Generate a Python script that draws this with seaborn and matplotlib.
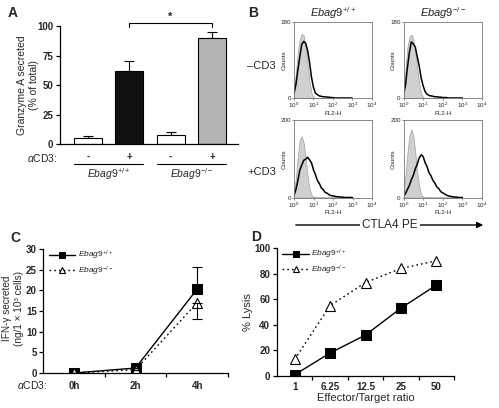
import numpy as np
import pandas as pd
import matplotlib
matplotlib.use("Agg")
import matplotlib.pyplot as plt
import seaborn as sns
from matplotlib.patches import FancyArrowPatch
from matplotlib.lines import Line2D

sns.set_theme(style="ticks")
plt.rcParams['font.family'] = ['Liberation Sans', 'DejaVu Sans']
plt.rcParams['mathtext.fontset'] = 'custom'
plt.rcParams['mathtext.rm'] = 'Liberation Sans'
plt.rcParams['mathtext.it'] = 'Liberation Sans:italic'
plt.rcParams['mathtext.bf'] = 'Liberation Sans:bold'

# ---------------- data ----------------
WT_LABEL = r"$\mathit{Ebag9}^{+/+}$"
KO_LABEL = r"$\mathit{Ebag9}^{-/-}$"

# Panel A
a_groups = ["WT-", "WT+", "KO-", "KO+"]
a_signs = ["-", "+", "-", "+"]
a_values = [5.5, 62, 7.5, 89.5]
a_err = [1.5, 8.5, 2.5, 5.5]
a_colors = ["#ffffff", "#111111", "#ffffff", "#b3b3b3"]

# Panel B (x in decades of FL2-H)
b_log = [0.0, 0.1, 0.2, 0.3, 0.4, 0.5, 0.6, 0.7, 0.8, 0.9, 1.0,
         1.1, 1.2, 1.3, 1.4, 1.5, 1.6, 1.7, 1.8, 1.9, 2.0,
         2.1, 2.2, 2.3, 2.4, 2.5, 2.6, 2.7, 2.8, 2.9, 3.0]
b_tl_gray = [20, 60, 110, 140, 152, 148, 120, 80, 40, 12, 3, 0, 0, 0, 0, 0, 0, 0, 0, 0, 0,
             0, 0, 0, 0, 0, 0, 0, 0, 0, 0]
b_tl_black = [10, 32, 66, 98, 127, 134, 130, 113, 86, 50, 26, 12, 8, 5, 4, 3, 3, 2, 2, 1, 1,
              0, 0, 0, 0, 0, 0, 0, 0, 0, 0]
b_tr_gray = [18, 65, 120, 145, 150, 140, 110, 70, 35, 10, 2, 0, 0, 0, 0, 0, 0, 0, 0, 0, 0,
             0, 0, 0, 0, 0, 0, 0, 0, 0, 0]
b_tr_black = [8, 30, 72, 108, 133, 128, 121, 98, 76, 47, 29, 15, 9, 6, 5, 4, 3, 3, 2, 2, 1,
              1, 1, 0, 0, 0, 0, 0, 0, 0, 0]
b_bl_gray = [15, 50, 110, 150, 158, 140, 100, 55, 22, 6, 1, 0, 0, 0, 0, 0, 0, 0, 0, 0, 0,
             0, 0, 0, 0, 0, 0, 0, 0, 0, 0]
b_bl_black = [5, 21, 44, 71, 84, 96, 99, 104, 97, 89, 71, 59, 44, 36, 25, 20, 13, 11, 7, 5, 4,
              3, 2, 2, 1, 1, 0, 0, 0, 0, 0]
b_br_gray = [15, 55, 115, 160, 176, 160, 115, 65, 28, 8, 2, 0, 0, 0, 0, 0, 0, 0, 0, 0, 0,
             0, 0, 0, 0, 0, 0, 0, 0, 0, 0]
b_br_black = [3, 10, 21, 31, 46, 57, 74, 86, 102, 110, 106, 90, 80, 64, 56, 44, 37, 27, 23, 15, 12,
              9, 6, 4, 3, 2, 1, 1, 0, 0, 0]
b_xtick_labels = [r"$10^{0}$", r"$10^{1}$", r"$10^{2}$", r"$10^{3}$", r"$10^{4}$"]

# Panel C
c_times = ["0h", "2h", "4h"]
c_wt = [0.0, 1.2, 20.3]
c_wt_err_up = [0.0, 0.0, 5.4]
c_ko = [0.0, 0.8, 17.0]
c_ko_err_down = [0.0, 0.0, 4.0]

# Panel D
d_ratios = ["1", "6.25", "12.5", "25", "50"]
d_wt = [1, 18, 32, 53, 71]
d_ko = [13, 55, 73, 84, 90]

# ---------------- figure ----------------
W, H = 499, 408
fig = plt.figure(figsize=(W / 100, H / 100), dpi=100)


def rect(l, t, r, b):
    return [l / W, 1 - b / H, (r - l) / W, (b - t) / H]


def ftxt(x, y, s, **kw):
    fig.text(x / W, 1 - y / H, s, **kw)


TICKFONT = dict(fontsize=7, fontweight="bold")
DOTTED = (0, (1.2, 2.2))


def style_xy(ax):
    sns.despine(ax=ax)
    for sp in ("left", "bottom"):
        ax.spines[sp].set_linewidth(0.9)
        ax.spines[sp].set_color("black")
    ax.tick_params(axis="both", direction="out", length=3, width=0.9, color="black", pad=2)


# ---------------- Panel A ----------------
axA = fig.add_axes(rect(60, 26, 238, 144))
dfA = pd.DataFrame({"group": a_groups, "value": a_values})
sns.barplot(data=dfA, x="group", y="value", hue="group", palette=a_colors,
            width=0.68, edgecolor="black", linewidth=0.8, legend=False,
            errorbar=None, ax=axA, zorder=2)
axA.errorbar(range(len(a_values)), a_values, yerr=[[0] * len(a_err), a_err], fmt="none",
             ecolor="black", elinewidth=0.8, capsize=3.5, capthick=0.8, zorder=1)
axA.set_xlim(-0.68, 3.63)
axA.set_ylim(0, 100)
axA.set_yticks([0, 25, 50, 75, 100])
axA.set_yticklabels(["0", "25", "50", "75", "100"], **TICKFONT)
axA.set_xticks(range(4))
axA.set_xticklabels(a_signs, **TICKFONT)
style_xy(axA)
axA.tick_params(axis="x", length=0, pad=6)
axA.set_xlabel("")
axA.set_ylabel("")
# significance bracket
axA.plot([1, 1, 3, 3], [99.4, 102.8, 102.8, 99.4], color="black", lw=0.8, clip_on=False)
axA.text(2, 103.5, "*", ha="center", va="bottom", fontsize=8, fontweight="bold")
# group lines and labels
trA = axA.get_xaxis_transform()
for center, lab in [(0.5, WT_LABEL), (2.5, KO_LABEL)]:
    axA.add_line(Line2D([center - 0.84, center + 0.84], [-0.172, -0.172], transform=trA,
                        color="black", lw=0.8, clip_on=False))
    axA.text(center, -0.255, lab, transform=trA, ha="center", va="center", fontsize=7.5)
ftxt(58, 158, r"$\alpha$CD3:", ha="right", va="center", fontsize=7.5)
ftxt(28, 85, "Granzyme A secreted\n(% of total)", rotation=90, ha="center", va="center",
     fontsize=7.5, multialignment="center")
ftxt(13, 13, "A", fontsize=10, fontweight="bold", ha="center", va="center")

# ---------------- Panel B ----------------
b_specs = [
    (rect(294, 22, 371.5, 98), b_tl_gray, b_tl_black, 180),
    (rect(403.5, 22, 482, 98), b_tr_gray, b_tr_black, 180),
    (rect(294, 120, 372, 197.5), b_bl_gray, b_bl_black, 200),
    (rect(403.5, 120, 482, 197.5), b_br_gray, b_br_black, 200),
]
for r, gray, black, ymax in b_specs:
    ax = fig.add_axes(r)
    ax.fill_between(b_log, gray, color="#d0d0d0", edgecolor="#a0a0a0", linewidth=0.5)
    sns.lineplot(x=b_log, y=black, ax=ax, color="black", linewidth=1.1)
    ax.set_xlim(0, 4)
    ax.set_ylim(0, ymax)
    ax.set_xticks([0, 1, 2, 3, 4])
    ax.set_xticklabels(b_xtick_labels, fontsize=4.5)
    ax.set_yticks([0, ymax])
    ax.set_yticklabels(["0", str(ymax)], fontsize=4.5)
    ax.tick_params(axis="both", direction="out", length=1.5, width=0.5, pad=0.5, color="#666666")
    for sp in ax.spines.values():
        sp.set_linewidth(0.6)
        sp.set_color("#777777")
    ax.set_xlabel("FL2-H", fontsize=4.5, labelpad=0.5)
    ax.set_ylabel("Counts", fontsize=4.5, labelpad=-4)

ftxt(333, 13, WT_LABEL, fontsize=8, ha="center", va="center")
ftxt(443, 13, KO_LABEL, fontsize=8, ha="center", va="center")
ftxt(247, 66, "\u2013CD3", fontsize=8, ha="left", va="center")
ftxt(247, 172, "+CD3", fontsize=8, ha="left", va="center")
ftxt(253, 13, "B", fontsize=10, fontweight="bold", ha="center", va="center")
arrow = FancyArrowPatch((293 / W, 1 - 225 / H), (486 / W, 1 - 225 / H), transform=fig.transFigure,
                        arrowstyle="-|>", mutation_scale=9, lw=1.0, color="black")
fig.add_artist(arrow)
ftxt(390, 225, "CTLA4 PE", fontsize=8.5, ha="center", va="center",
     bbox=dict(facecolor="white", edgecolor="none", pad=1.5), zorder=5)

# ---------------- Panel C ----------------
axC = fig.add_axes(rect(43, 249, 228, 373))
c_pos = list(range(len(c_times)))
sns.lineplot(x=c_pos, y=c_wt, ax=axC, color="black", linewidth=1.0, marker="s",
             markersize=6.5, markerfacecolor="black", markeredgecolor="black", label=WT_LABEL)
sns.lineplot(x=c_pos, y=c_ko, ax=axC, color="black", linewidth=1.0, linestyle=DOTTED,
             marker="^", markersize=6.5, markerfacecolor="white", markeredgecolor="black",
             markeredgewidth=0.8, label=KO_LABEL)
axC.errorbar(c_pos, c_wt, yerr=[[0] * 3, c_wt_err_up], fmt="none", ecolor="black",
             elinewidth=0.8, capsize=3.5, capthick=0.8)
axC.errorbar(c_pos, c_ko, yerr=[c_ko_err_down, [0] * 3], fmt="none", ecolor="black",
             elinewidth=0.8, capsize=3.5, capthick=0.8)
axC.set_xlim(-0.5, 2.5)
axC.set_ylim(0, 30)
axC.set_yticks(range(0, 31, 5))
axC.set_yticklabels([str(v) for v in range(0, 31, 5)], **TICKFONT)
axC.set_xticks(c_pos)
axC.set_xticklabels(c_times, **TICKFONT)
axC.set_xticks([0.5, 1.5, 2.5], minor=True)
style_xy(axC)
axC.tick_params(axis="y", pad=1.5)
axC.tick_params(axis="x", which="major", length=0, pad=6)
axC.tick_params(axis="x", which="minor", direction="out", length=3, width=0.9, color="black")
axC.legend(loc="upper left", bbox_to_anchor=(0.03, 1.0), frameon=False, fontsize=6,
           handlelength=3.2, handletextpad=0.3, labelspacing=0.25, borderpad=0, borderaxespad=0,
           markerscale=0.75)
ftxt(48, 385, r"$\alpha$CD3:", ha="right", va="center", fontsize=7.5)
ftxt(13, 308, "IFN-\u03b3 secreted\n(ng/1 \u00d7 10\u00b3 cells)", rotation=90, ha="center",
     va="center", fontsize=7.2, multialignment="center", linespacing=1.15)
ftxt(15, 238, "C", fontsize=10, fontweight="bold", ha="center", va="center")

# ---------------- Panel D ----------------
axD = fig.add_axes(rect(277, 248, 454, 376))
d_pos = list(range(len(d_ratios)))
sns.lineplot(x=d_pos, y=d_wt, ax=axD, color="black", linewidth=1.0, marker="s",
             markersize=6.5, markerfacecolor="black", markeredgecolor="black", label=WT_LABEL)
sns.lineplot(x=d_pos, y=d_ko, ax=axD, color="black", linewidth=1.0, linestyle=DOTTED,
             marker="^", markersize=6.5, markerfacecolor="white", markeredgecolor="black",
             markeredgewidth=0.8, label=KO_LABEL)
axD.set_xlim(-0.5, 4.5)
axD.set_ylim(0, 100)
axD.set_yticks(range(0, 101, 20))
axD.set_yticklabels([str(v) for v in range(0, 101, 20)], **TICKFONT)
axD.set_xticks(d_pos)
axD.set_xticklabels(d_ratios, **TICKFONT)
axD.set_xticks([0.5, 1.5, 2.5, 3.5, 4.5], minor=True)
style_xy(axD)
axD.tick_params(axis="x", which="major", length=0, pad=4)
axD.tick_params(axis="x", which="minor", direction="out", length=3, width=0.9, color="black")
axD.legend(loc="upper left", bbox_to_anchor=(0.03, 1.0), frameon=False, fontsize=6,
           handlelength=3.2, handletextpad=0.3, labelspacing=0.25, borderpad=0, borderaxespad=0,
           markerscale=0.75)
axD.set_xlabel("Effector/Target ratio", fontsize=8, labelpad=1)
axD.set_ylabel("% Lysis", fontsize=8, labelpad=1)
ftxt(256, 237, "D", fontsize=10, fontweight="bold", ha="center", va="center")

fig.savefig("out.png", dpi=100)
